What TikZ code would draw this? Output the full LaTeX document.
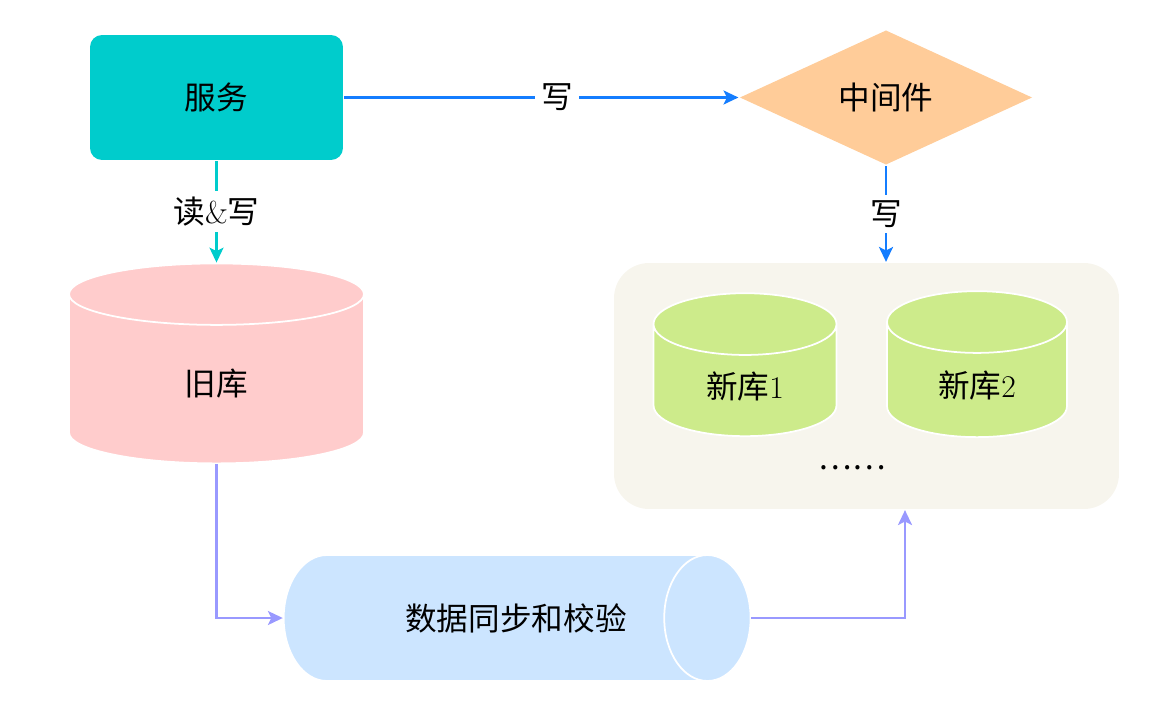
\documentclass[tikz,border=0pt]{standalone}
\usepackage{fontspec}
\newfontfamily\cjk{Noto Sans CJK SC}
\usetikzlibrary{shapes, shapes.geometric, arrows.meta, positioning}

\definecolor{svcteal}{RGB}{0,204,204}
\definecolor{midorange}{RGB}{255,204,153}
\definecolor{oldpink}{RGB}{255,204,204}
\definecolor{newgreen}{RGB}{205,235,139}
\definecolor{syncblue}{RGB}{204,229,255}
\definecolor{boxgray}{RGB}{247,245,237}
\definecolor{wblue}{RGB}{20,125,255}
\definecolor{syncpurple}{RGB}{153,153,255}

\begin{document}
\begin{tikzpicture}[x=0.02cm, y=-0.02cm, font=\fontsize{18}{20}\selectfont, line width=1.3pt,
  >={Stealth[length=8.5pt, width=8pt, inset=2pt]},
  db/.style={cylinder, draw=white, line width=1pt},
  lbl/.style={fill=white, text=black}]
\useasboundingbox (0,0) rectangle (1155,713);
\node[rectangle, rounded corners=0.24cm, fill=svcteal, minimum width=5.06cm, minimum height=2.5cm] (S) at (216.5,97.5) {\cjk 服务};
\node[diamond, fill=midorange, minimum width=5.86cm, minimum height=2.7cm, inner sep=0pt] (M) at (886,97.5) {\cjk 中间件};
\node[rectangle, rounded corners=0.7cm, fill=boxgray, minimum width=10.1cm, minimum height=4.92cm] (N) at (866.5,386) {};
\node[db, shape border rotate=90, aspect=0.82, fill=oldpink, minimum width=5.9cm, minimum height=4cm] (O) at (216.5,383.5) {\cjk 旧库};
\node[db, shape border rotate=90, aspect=0.69, fill=newgreen, minimum width=3.66cm, minimum height=2.86cm] (N1) at (745,386) {{\cjk 新库}1};
\node[db, shape border rotate=90, aspect=0.69, fill=newgreen, minimum width=3.6cm, minimum height=2.92cm] (N2) at (977,385.5) {{\cjk 新库}2};
\node (D) at (852,468) {\cjk ……};
\node[db, aspect=2.1, fill=syncblue, minimum width=2.52cm, minimum height=9.34cm] (Y) at (486,618) {\hspace{1.2cm}\cjk 数据同步和校验};

\draw[->, wblue] (S.east) -- node[pos=0.54, lbl]{\cjk 写} (M.west);
\draw[->, wblue] (M.south) -- node[lbl]{\cjk 写} (M.south |- N.north);
\draw[->, svcteal] (S.south) -- node[lbl]{{\cjk 读}\&{\cjk 写}} (S.south |- O.north);
\draw[->, syncpurple] (O.south) |- (Y.west);
\draw[->, syncpurple] (Y.east) -| ([xshift=0.77cm]N.south);
\end{tikzpicture}
\end{document}
